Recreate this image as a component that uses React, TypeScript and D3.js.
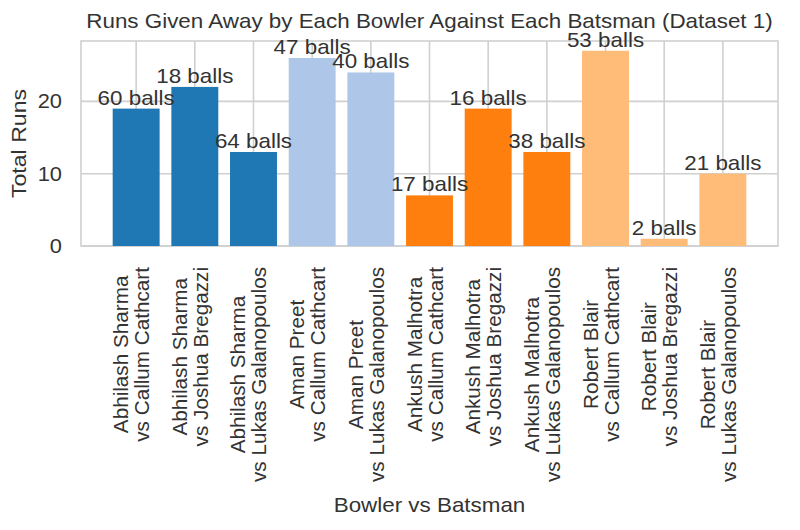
import React from "react";
import * as d3 from "d3";

const bowlers = [
  "Abhilash Sharma", "Abhilash Sharma", "Abhilash Sharma",
  "Aman Preet", "Aman Preet",
  "Ankush Malhotra", "Ankush Malhotra", "Ankush Malhotra",
  "Robert Blair", "Robert Blair", "Robert Blair",
];
const batsmen = [
  "Callum Cathcart", "Joshua Bregazzi", "Lukas Galanopoulos",
  "Callum Cathcart", "Lukas Galanopoulos",
  "Callum Cathcart", "Joshua Bregazzi", "Lukas Galanopoulos",
  "Callum Cathcart", "Joshua Bregazzi", "Lukas Galanopoulos",
];
const runs = [19, 22, 13, 26, 24, 7, 19, 13, 27, 1, 10];
const balls = [60, 18, 64, 47, 40, 17, 16, 38, 53, 2, 21];
const bowlerOrder = ["Abhilash Sharma", "Aman Preet", "Ankush Malhotra", "Robert Blair"];
const palette = ["#1f77b4", "#aec7e8", "#ff7f0e", "#ffbb78"];
const yTicks = [0, 10, 20];

const width = 800;
const height = 530;
const margin = { left: 81, right: 22, top: 41, bottom: 284 };
const font = "'Liberation Sans', Arial, sans-serif";
const fs = 20;
const sx = 1.12; // the picture is a little wider than tall
const tickFs = 20.7;
const textColor = "#333333";
const gridColor = "#d0d0d0";

const measure = (() => {
  const ctx = document.createElement("canvas").getContext("2d");
  return (s: string) => {
    if (!ctx) return s.length * tickFs * 0.5;
    ctx.font = `${tickFs}px 'Liberation Sans', Arial`;
    return ctx.measureText(s).width;
  };
})();

// horizontal text, stretched a bit sideways
const HText = ({ x, y, size, anchor, children }: any) => (
  <text
    transform={`translate(${x},${y}) scale(${sx},1)`}
    textAnchor={anchor}
    fontSize={size}
    fill={textColor}
  >
    {children}
  </text>
);

const App = () => {
  const n = runs.length;
  const x = d3
    .scaleLinear()
    .domain([-0.94, n - 1 + 0.94])
    .range([margin.left, width - margin.right]);
  const y = d3
    .scaleLinear()
    .domain([0, d3.max(runs)! * 1.05])
    .range([height - margin.bottom, margin.top]);
  const color = d3.scaleOrdinal<string, string>().domain(bowlerOrder).range(palette);
  const bw = x(0.4) - x(0);
  const labelTop = 267;
  const plotMidY = (margin.top + height - margin.bottom) / 2;
  const plotMidX = (margin.left + width - margin.right) / 2;

  return (
    <div style={{ position: "fixed", left: 0, top: 0, background: "white" }}>
      <svg width={width} height={height} fontFamily={font}>
        <rect width={width} height={height} fill="white" />
        {/* grid */}
        {yTicks.map((t) => (
          <line key={"gy" + t} x1={margin.left} x2={width - margin.right} y1={y(t)} y2={y(t)} stroke={gridColor} strokeWidth={1.6} />
        ))}
        {runs.map((_, i) => (
          <line key={"gx" + i} x1={x(i)} x2={x(i)} y1={margin.top} y2={height - margin.bottom} stroke={gridColor} strokeWidth={1.6} />
        ))}
        <rect
          x={margin.left}
          y={margin.top}
          width={width - margin.left - margin.right}
          height={height - margin.top - margin.bottom}
          fill="none"
          stroke={gridColor}
          strokeWidth={1.6}
        />
        {/* bars */}
        {runs.map((r, i) => (
          <rect key={"b" + i} x={x(i) - bw} y={y(r)} width={bw * 2} height={y(0) - y(r)} fill={color(bowlers[i])} />
        ))}
        {runs.map((r, i) => (
          <HText key={"l" + i} x={x(i)} y={y(r) - 4} size={fs} anchor="middle">
            {balls[i]} balls
          </HText>
        ))}
        {/* y ticks */}
        {yTicks.map((t) => (
          <HText key={"yt" + t} x={margin.left - 19} y={y(t) + 7} size={19.5} anchor="end">
            {t}
          </HText>
        ))}
        {/* x ticks */}
        {runs.map((_, i) => {
          const l1 = bowlers[i];
          const l2 = "vs " + batsmen[i];
          const maxLen = Math.max(measure(l1), measure(l2));
          return (
            <g key={"xt" + i} transform={`translate(${x(i)},${labelTop + maxLen / 2}) rotate(-90)`}>
              <text x={0} y={-8} textAnchor="middle" fontSize={tickFs} fill={textColor}>{l1}</text>
              <text x={0} y={13} textAnchor="middle" fontSize={tickFs} fill={textColor}>{l2}</text>
            </g>
          );
        })}
        <text
          transform={`translate(26,${plotMidY}) rotate(-90) scale(1.1,1)`}
          textAnchor="middle"
          fontSize={21}
          fill={textColor}
        >
          Total Runs
        </text>
        <HText x={plotMidX} y={512} size={20} anchor="middle">
          Bowler vs Batsman
        </HText>
        <HText x={plotMidX} y={28} size={fs} anchor="middle">
          Runs Given Away by Each Bowler Against Each Batsman (Dataset 1)
        </HText>
      </svg>
    </div>
  );
};

export default App;
